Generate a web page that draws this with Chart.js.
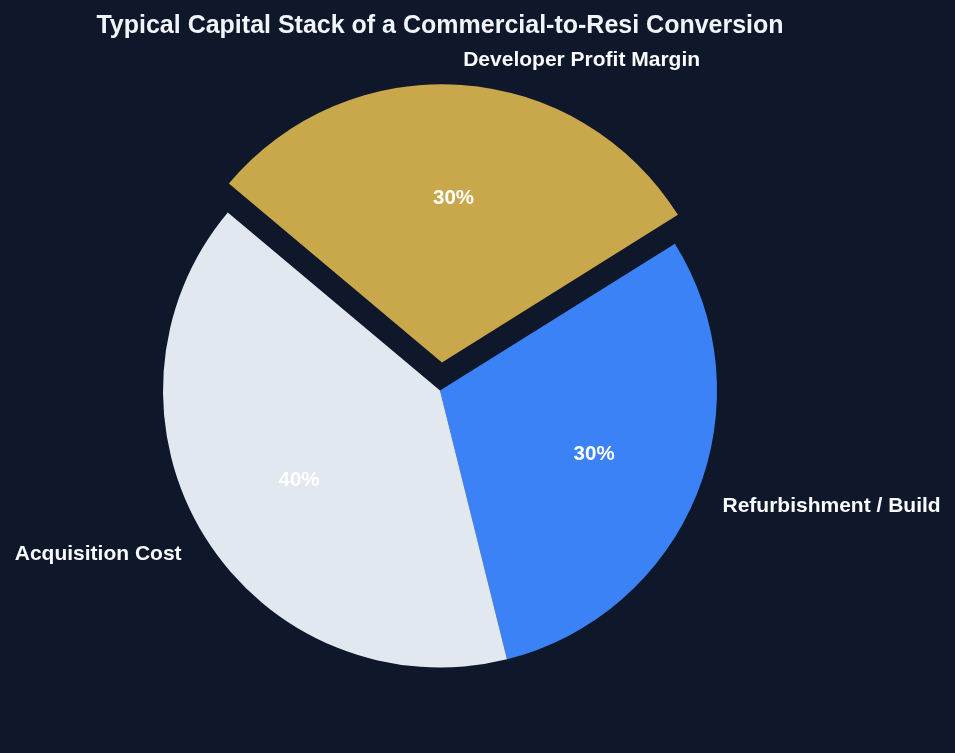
<!DOCTYPE html>
<html>
<head>
<meta charset="utf-8">
<script src="https://cdn.jsdelivr.net/npm/chart.js@4"></script>
<style>
  html, body { margin: 0; padding: 0; background: #0f172a; }
  #wrap { width: 955px; height: 753px; }
</style>
</head>
<body>
<div id="wrap"><canvas id="chart" width="955" height="753"></canvas></div>
<script>
// clockwise from the top, as Chart.js draws them
const labels = ['Developer Profit Margin', 'Refurbishment / Build', 'Acquisition Cost'];
const shares = [30, 30, 40];
const colors = ['#c9a74b', '#3b82f6', '#e2e8f0'];
const explode = [28, 0, 0];   // pixels the slice is pulled out
const title = 'Typical Capital Stack of a Commercial-to-Resi Conversion';

const pieLabels = {
  id: 'pieLabels',
  afterDatasetsDraw(chart) {
    const ctx = chart.ctx;
    const meta = chart.getDatasetMeta(0);
    const total = shares.reduce((a, b) => a + b, 0);
    ctx.save();
    meta.data.forEach(function(arc, i) {
      const mid = (arc.startAngle + arc.endAngle) / 2;
      const off = explode[i];
      const r = arc.outerRadius;
      const cx = arc.x + Math.cos(mid) * off;
      const cy = arc.y + Math.sin(mid) * off + 2;
      ctx.textBaseline = 'middle';
      // percentage inside
      ctx.font = 'bold 20.5px "Liberation Sans", Arial, sans-serif';
      ctx.fillStyle = '#ffffff';
      ctx.textAlign = 'center';
      ctx.fillText(Math.round(shares[i] / total * 100) + '%', cx + Math.cos(mid) * r * 0.6, cy + Math.sin(mid) * r * 0.6);
      // category outside
      ctx.font = 'bold 21px "Liberation Sans", Arial, sans-serif';
      const lx = cx + Math.cos(mid) * r * 1.1;
      const ly = cy + Math.sin(mid) * r * 1.1;
      ctx.textAlign = Math.cos(mid) > 0 ? 'left' : 'right';
      ctx.fillStyle = '#f8fafc';
      ctx.fillText(labels[i], lx, ly);
    });
    ctx.font = 'bold 25px "Liberation Sans", Arial, sans-serif';
    ctx.fillStyle = '#f1f5f9';
    ctx.textAlign = 'center';
    ctx.textBaseline = 'middle';
    ctx.fillText(title, 440, 26);
    ctx.restore();
  }
};

new Chart(document.getElementById('chart').getContext('2d'), {
  type: 'pie',
  data: {
    labels: labels,
    datasets: [{
      data: shares,
      backgroundColor: colors,
      borderWidth: 0,
      // Chart.js moves an arc by a quarter of its offset
      offset: explode.map(function(v) { return v * 4; })
    }]
  },
  options: {
    responsive: false,
    animation: false,
    rotation: -50,
    radius: 277,
    layout: { padding: { top: 28, bottom: 0, left: 0, right: 75 } },
    plugins: {
      legend: { display: false },
      title: { display: false },
      tooltip: { enabled: false }
    }
  },
  plugins: [pieLabels]
});
</script>
</body>
</html>
